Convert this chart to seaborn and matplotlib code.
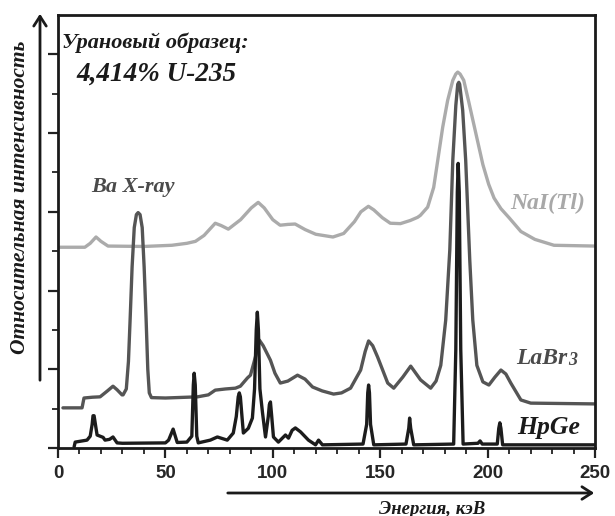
import numpy as np
import pandas as pd
import matplotlib
matplotlib.use("Agg")
import matplotlib.pyplot as plt
import seaborn as sns

# ---------------- data (energy keV, relative intensity) ----------------
nai_e = [0, 12.5, 15, 17.7, 20, 23.3, 40, 53, 60, 64, 68, 73.2, 76, 79.3, 85, 90, 93.2, 96,
         100, 103.4, 107, 110.4, 115, 120, 128, 133, 138, 141, 144.5, 147, 151, 154.7, 159.4,
         164, 167.4, 168.7, 172.1, 174.9, 176.8, 179.1, 181.4, 183.8, 185.2, 186.1, 187.2,
         188.9, 191.2, 194.5, 197.8, 200.5, 203, 206.2, 210, 215.5, 222, 230.9, 250]
nai_i = [5.10, 5.10, 5.2, 5.36, 5.25, 5.13, 5.12, 5.15, 5.2, 5.25, 5.4, 5.71, 5.65, 5.56, 5.8,
         6.1, 6.24, 6.1, 5.8, 5.66, 5.68, 5.69, 5.55, 5.43, 5.36, 5.45, 5.75, 6.0, 6.14, 6.05,
         5.85, 5.71, 5.70, 5.78, 5.86, 5.91, 6.12, 6.62, 7.31, 8.15, 8.83, 9.34, 9.5, 9.55, 9.5,
         9.34, 8.8, 8.0, 7.2, 6.7, 6.35, 6.08, 5.85, 5.5, 5.3, 5.15, 5.13]

labr_e = [2.3, 11.2, 12.1, 16, 19.6, 23, 25.6, 27.5, 29.8, 30.3, 31.8, 32.8, 33.6, 34.5, 35.5,
          36.5, 37.3, 38.2, 39.2, 40.1, 41.0, 41.8, 42.5, 43.5, 50, 60, 65, 70, 73.2, 78, 82.6,
          84.9, 88.2, 89.6, 91.9, 93.75, 95.5, 98.9, 101, 103.5, 107, 111.5, 115, 118.5,
          123, 128.3, 132, 136.2, 140.9, 143, 144.6, 146.5, 148.8, 153.5, 156.3, 160.5, 164.2,
          168.8, 173.5, 176, 178.2, 180.5, 182.4, 183.8, 185.2, 186.1, 186.6, 187.0, 188.4,
          189.8, 191.7, 193.1, 195.0, 197.8, 200.6, 203.4, 206.2, 208.5, 210.8, 215.5, 220.1, 250]
labr_i = [1.02, 1.02, 1.27, 1.29, 1.30, 1.45, 1.57, 1.48, 1.35, 1.35, 1.5, 2.2, 3.3, 4.6, 5.6,
          5.93, 5.98, 5.93, 5.6, 4.6, 3.3, 2.0, 1.4, 1.28, 1.27, 1.29, 1.30, 1.35, 1.47, 1.5, 1.52,
          1.57, 1.78, 1.85, 2.31, 2.74, 2.6, 2.23, 1.9, 1.65, 1.7, 1.85, 1.75, 1.55,
          1.45, 1.37, 1.4, 1.52, 1.98, 2.45, 2.72, 2.6, 2.31, 1.65, 1.52, 1.80, 2.08,
          1.73, 1.52, 1.7, 2.1, 3.25, 5.03, 7.31, 8.7, 9.24, 9.29, 9.24, 8.58,
          7.31, 4.77, 3.25, 2.1, 1.68, 1.6, 1.8, 1.98, 1.88, 1.65, 1.22, 1.14, 1.12]

hpge_e = [7.5, 8.0, 13.5, 15.0, 15.9, 16.3, 16.8, 17.7, 18.2, 19.6, 21.0, 21.9, 24, 25.6, 27.5,
          30, 50, 51.5, 53.6, 55.5, 60, 62.3, 63.0, 63.4, 63.9, 64.6, 65.3, 70.9, 74.2, 78.8,
          81.6, 83.0, 83.9, 84.4, 84.9, 85.8, 86.3, 88.6, 90.5, 91.5, 92.3, 92.8, 93.3, 94.0,
          95.2, 96.6, 97.9, 98.4, 98.9, 99.5, 100.3, 102.6, 105.9, 107.3, 109, 110.5, 112.9,
          116.6, 119.9, 121.3, 123.1, 142, 143.7, 144.2, 144.6, 145.0, 145.5, 147, 162, 163.3,
          163.7, 164.2, 165.6, 184.2, 185.2, 185.9, 186.3, 186.8, 187.5, 188.6, 195.5, 196.5,
          197.5, 204.5, 205.2, 205.7, 206.2, 207, 250]
hpge_i = [0.03, 0.15, 0.2, 0.3, 0.6, 0.82, 0.82, 0.5, 0.33, 0.30, 0.27, 0.2, 0.22, 0.28, 0.13,
          0.12, 0.13, 0.2, 0.48, 0.14, 0.15, 0.3, 1.6, 1.9, 1.6, 0.3, 0.13, 0.2, 0.28, 0.2,
          0.38, 0.8, 1.3, 1.4, 1.3, 0.7, 0.38, 0.5, 0.76, 1.5, 3.0, 3.45, 3.0, 1.5,
          0.9, 0.28, 0.8, 1.1, 1.17, 0.8, 0.28, 0.15, 0.33, 0.25, 0.45, 0.51, 0.41,
          0.2, 0.08, 0.2, 0.08, 0.1, 0.6, 1.4, 1.6, 1.4, 0.6, 0.08, 0.1, 0.5,
          0.76, 0.5, 0.08, 0.1, 2.5, 6.5, 7.23, 6.5, 2.5, 0.1, 0.12, 0.18,
          0.1, 0.1, 0.5, 0.64, 0.5, 0.08, 0.08]

x_ticks = [0, 50, 100, 150, 200, 250]
x_tick_labels = ["0", "50", "100", "150", "200", "250"]

series_names = ["NaI(Tl)", "LaBr3", "HpGe"]
series_colors = ["#ababab", "#555555", "#1c1c1c"]

# ---------------- figure ----------------
sns.set_theme(style="white")
plt.rcParams["font.family"] = ["Liberation Serif", "DejaVu Serif"]

fig = plt.figure(figsize=(6.15, 5.16), dpi=100)
ax = fig.add_axes([58 / 615, (516 - 448) / 516, (595 - 58) / 615, (448 - 15) / 516])

df = pd.concat([
    pd.DataFrame({"E": nai_e, "I": nai_i, "s": series_names[0]}),
    pd.DataFrame({"E": labr_e, "I": labr_i, "s": series_names[1]}),
    pd.DataFrame({"E": hpge_e, "I": hpge_i, "s": series_names[2]}),
])
for name, col in zip(series_names, series_colors):
    sub = df[df["s"] == name]
    sns.lineplot(data=sub, x="E", y="I", ax=ax, color=col, lw=2.4, sort=False,
                 estimator=None, legend=False, solid_joinstyle="round")

ax.set_xlim(0, 250)
ax.set_ylim(0, 11)
ax.set_xlabel("")
ax.set_ylabel("")
ax.set_xticks(x_ticks)
ax.set_xticklabels(x_tick_labels, fontfamily="Liberation Sans", fontsize=13.5,
                   fontweight="bold", color="#262626")
ax.set_xticks(np.arange(0, 251, 10), minor=True)
ax.set_yticks([0, 2, 4, 6, 8, 10])
ax.set_yticks([1, 3, 5, 7, 9], minor=True)
ax.set_yticklabels([])
ax.tick_params(axis="both", which="major", direction="out", length=7, width=1.6, color="#222222",
               bottom=True, left=True, pad=5)
ax.tick_params(axis="both", which="minor", direction="out", length=4, width=1.3, color="#222222",
               bottom=True, left=True)
for sp in ax.spines.values():
    sp.set_color("#1a1a1a")
    sp.set_linewidth(2.0)
    sp.set_visible(True)

txt = dict(fontweight="bold", fontstyle="italic")
ax.text(1.9, 10.3, "Урановый образец:", fontsize=16, color="#1a1a1a", va="center", ha="left", **txt)
ax.text(8.5, 9.5, "4,414% U-235", fontsize=19.5, color="#1a1a1a", va="center", ha="left", **txt)
ax.text(15.5, 6.62, "Ba X-ray", fontsize=16, color="#4a4a4a", va="center", ha="left", **txt)
ax.text(210.5, 6.22, "NaI(Tl)", fontsize=17, color="#a8a8a8", va="center", ha="left", **txt)
t_lab = ax.text(213.5, 2.28, "LaBr", fontsize=17, color="#4a4a4a", va="center", ha="left", **txt)
ax.annotate("3", xy=(1.0, 0.0), xycoords=t_lab, xytext=(0.5, -0.5), textcoords="offset points",
            fontsize=13, color="#4a4a4a", va="bottom", ha="left", **txt)
ax.text(214, 0.51, "HpGe", fontsize=18.5, color="#1a1a1a", va="center", ha="left", **txt)

# axis arrows and labels (figure pixel coordinates)
def fx(px):
    return px / 615

def fy(py):
    return 1 - py / 516

fig.add_artist(matplotlib.patches.FancyArrowPatch((fx(40), fy(383)), (fx(40), fy(11)),
               transform=fig.transFigure, arrowstyle="->,head_length=7,head_width=4.5",
               color="#1a1a1a", lw=2.0))
fig.add_artist(matplotlib.patches.FancyArrowPatch((fx(225), fy(493)), (fx(597), fy(493)),
               transform=fig.transFigure, arrowstyle="->,head_length=7,head_width=4.5",
               color="#1a1a1a", lw=2.0))
fig.text(fx(20), fy(197), "Относительная интенсивность", rotation=90, ha="center", va="center",
         fontsize=15.5, color="#1a1a1a", **txt)
fig.text(fx(432), fy(509), "Энергия, кэВ", ha="center", va="center", fontsize=13.5,
         color="#1a1a1a", **txt)

fig.savefig("out.png", dpi=100, facecolor="white")
